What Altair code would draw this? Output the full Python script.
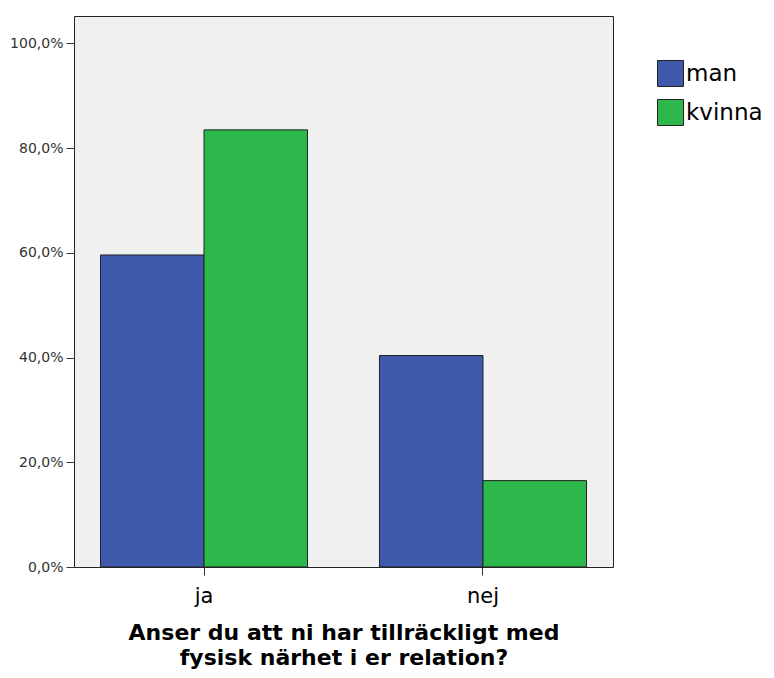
import altair as alt
import pandas as pd

categories = ["ja", "nej"]
groups = ["man", "kvinna"]
man_values = [59.6, 40.4]
kvinna_values = [83.5, 16.5]

rows = []
for i, c in enumerate(categories):
    rows.append({"svar": c, "kon": "man", "pct": man_values[i]})
    rows.append({"svar": c, "kon": "kvinna", "pct": kvinna_values[i]})
df = pd.DataFrame(rows)

font = "DejaVu Sans"

chart = alt.Chart(df).mark_bar(stroke="#222222", strokeWidth=1).encode(
    x=alt.X("svar:N", sort=categories,
            scale=alt.Scale(paddingInner=0.258, paddingOuter=0.095),
            axis=alt.Axis(title=["Anser du att ni har tillräckligt med", "fysisk närhet i er relation?"],
                          labelAngle=0, labelFont=font, labelFontSize=21, labelColor="black",
                          labelPadding=10, tickSize=8, tickColor="#333333", domain=False,
                          titleFont=font, titleFontSize=22, titleFontWeight="bold",
                          titleColor="black", titlePadding=16, titleLineHeight=25)),
    xOffset=alt.XOffset("kon:N", sort=groups),
    y=alt.Y("pct:Q", scale=alt.Scale(domain=[0, 105.25], nice=False),
            axis=alt.Axis(title=None, values=[0, 20, 40, 60, 80, 100],
                          labelExpr="replace(format(datum.value, '.1f'), '.', ',') + '%'",
                          labelFont=font, labelFontSize=14, labelColor="#333333",
                          tickSize=8, tickColor="#333333", domain=False, grid=False,
                          labelPadding=3)),
    color=alt.Color("kon:N", sort=groups,
                    scale=alt.Scale(domain=groups, range=["#3E58AC", "#2DB84B"]),
                    legend=alt.Legend(title=None, orient="none", legendX=583, legendY=44,
                                      symbolType="square", symbolSize=676,
                                      symbolStrokeColor="#222222", symbolStrokeWidth=1,
                                      symbolOpacity=1,
                                      labelFont=font, labelFontSize=23, labelColor="black",
                                      labelOffset=2, rowPadding=8, labelLimit=200)),
).properties(
    width=539, height=551,
    autosize=alt.AutoSizeParams(type="none"),
    padding={"left": 66, "top": 8, "right": 152, "bottom": 106},
    background="white",
).configure_view(
    fill="#F0F0F0", stroke="#222222", strokeWidth=1
)

chart.save("out.html", embed_options={"renderer": "svg", "actions": False})
